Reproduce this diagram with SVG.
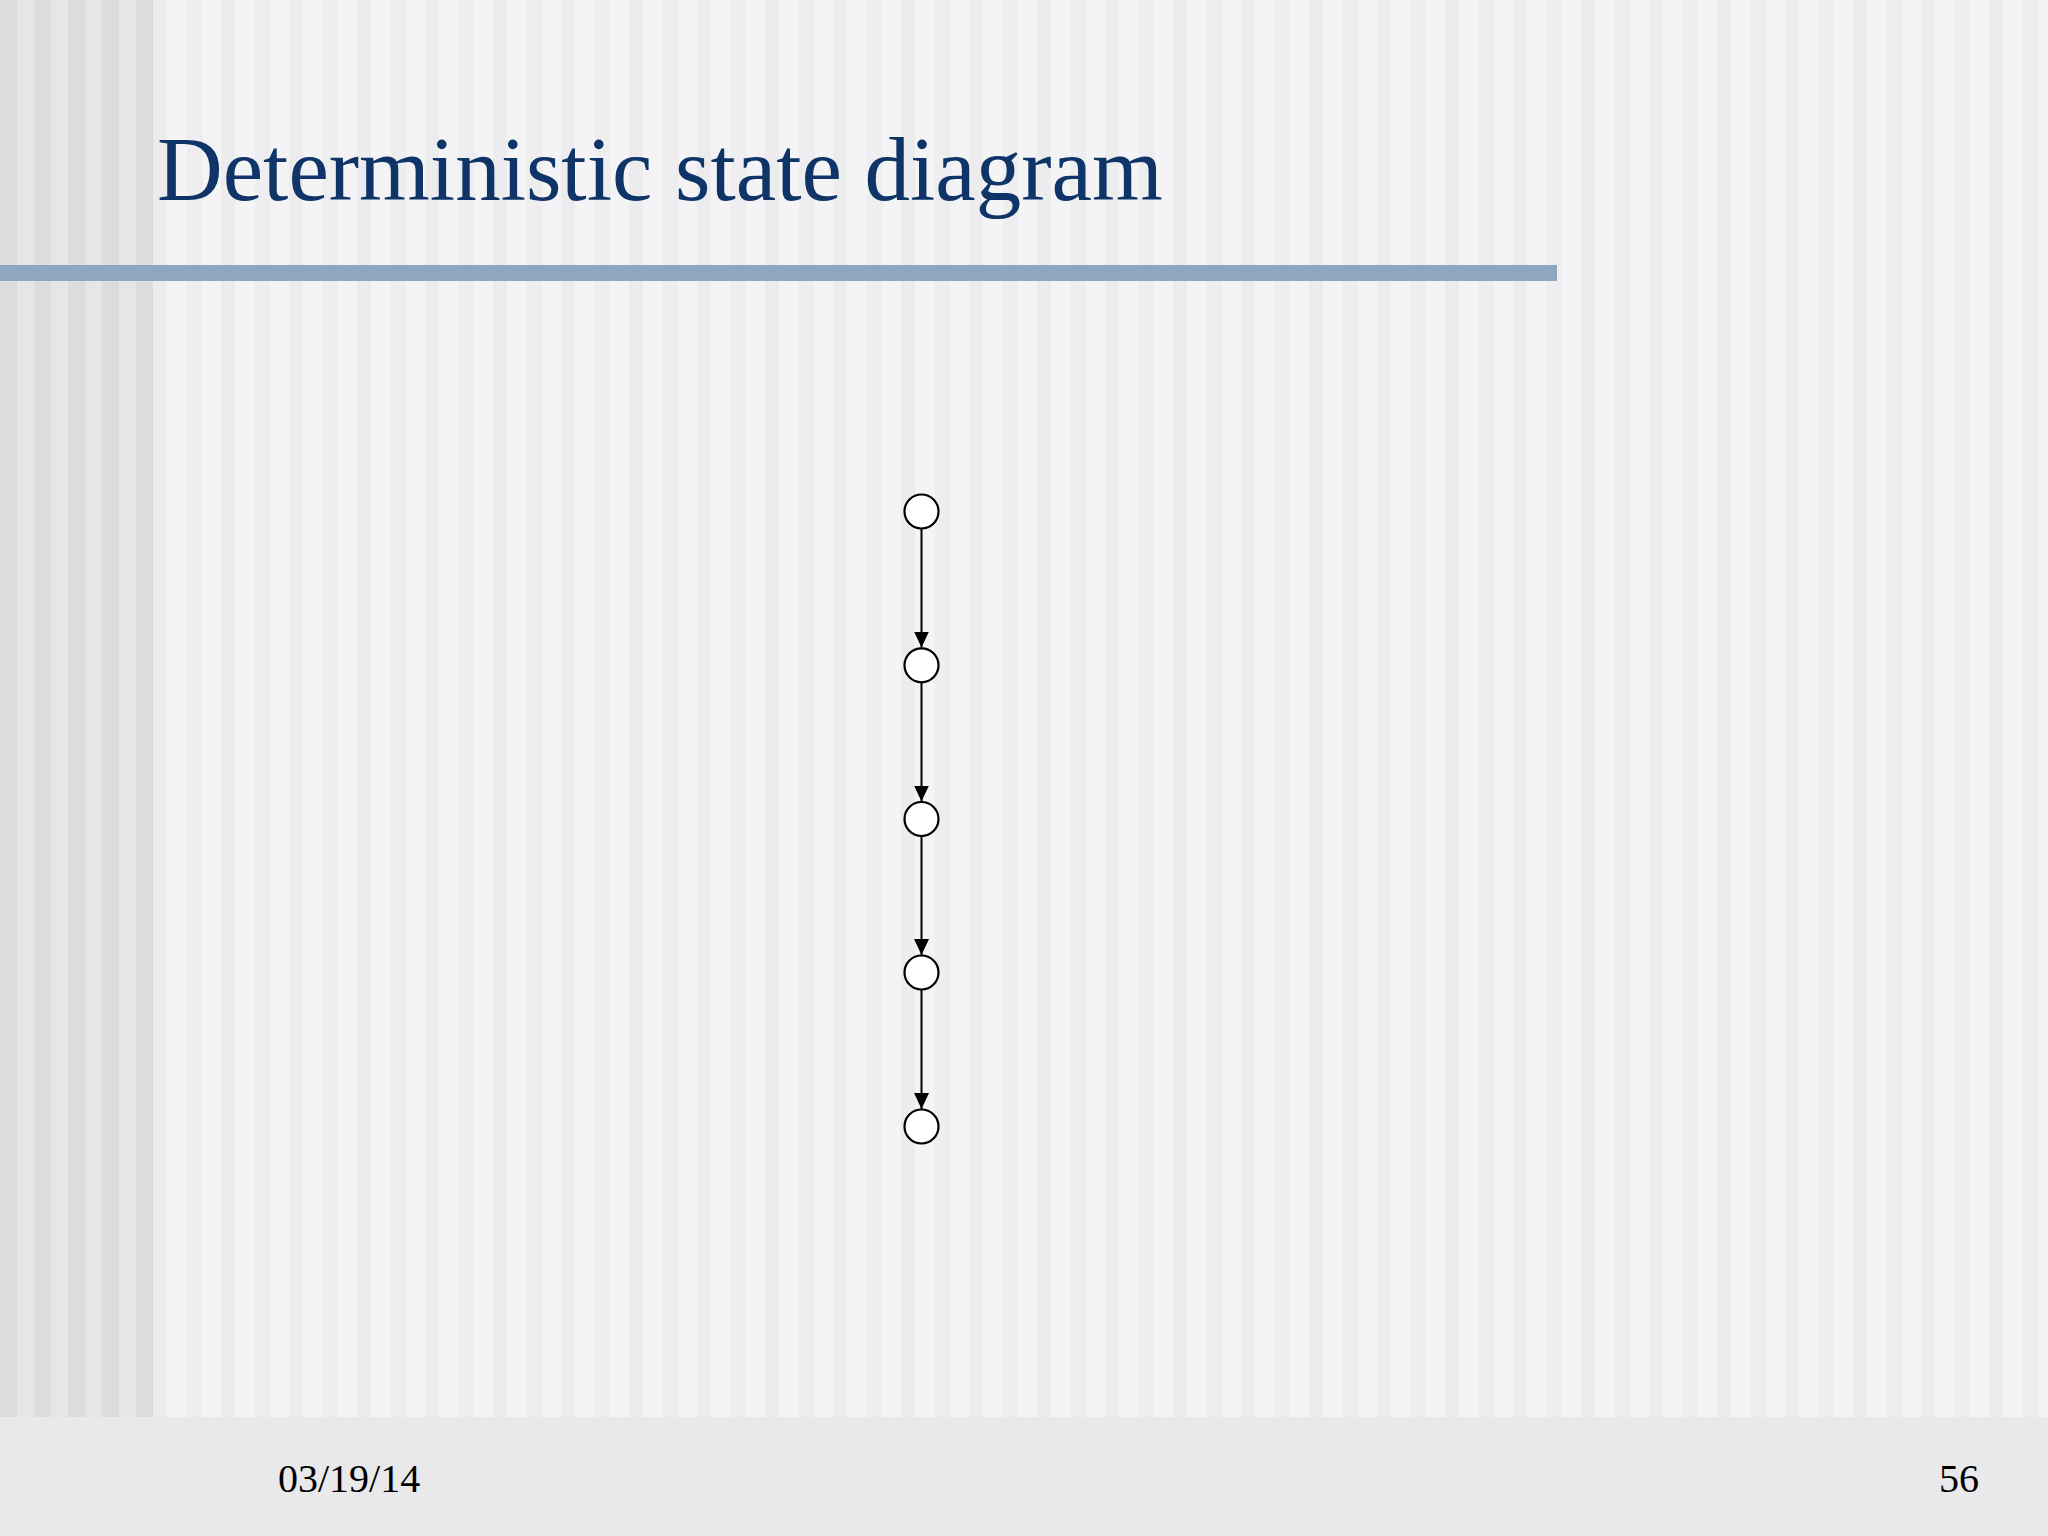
<svg xmlns="http://www.w3.org/2000/svg" width="2048" height="1536" viewBox="0 0 2048 1536">
<defs>
<pattern id="leftStripes" x="0" y="0" width="34" height="10" patternUnits="userSpaceOnUse">
<rect x="0" y="0" width="34" height="10" fill="#e6e6e8"/>
<rect x="0" y="0" width="17" height="10" fill="#dcdcdf"/>
</pattern>
<pattern id="mainStripes" x="153" y="0" width="68" height="10" patternUnits="userSpaceOnUse">
<rect x="0" y="0" width="68" height="10" fill="#f4f4f6"/>
<rect x="0" y="0" width="14" height="10" fill="#ececef"/>
<rect x="34" y="0" width="16" height="10" fill="#eeeef0"/>
</pattern>
<marker id="arrow" viewBox="0 0 16 15" refX="16" refY="7.5" markerWidth="16" markerHeight="15" markerUnits="userSpaceOnUse" orient="auto">
<path d="M0,0 L16,7.5 L0,15 Z" fill="#000"/>
</marker>
<style>
.node { fill: #ffffff; stroke: #000000; stroke-width: 2.2; }
.edge { stroke: #000000; stroke-width: 2; fill: none; marker-end: url(#arrow); }
.title { font-family: "Liberation Serif", "Times New Roman", serif; font-size: 91px; fill: #0f3468; }
.footer { font-family: "Liberation Serif", "Times New Roman", serif; font-size: 40px; fill: #000000; }
</style>
</defs>
<rect x="0" y="0" width="2048" height="1536" fill="#f3f3f5"/>
<rect x="153" y="0" width="1895" height="1417" fill="url(#mainStripes)"/>
<rect x="0" y="0" width="153" height="1417" fill="url(#leftStripes)"/>
<rect x="0" y="1417" width="2048" height="119" fill="#e9e8eb"/>
<rect x="0" y="265" width="1557" height="16" fill="#8fa6c1"/>
<text class="title" x="157" y="200">Deterministic state diagram</text>
<g id="connectors">
<line class="edge" x1="921.5" y1="529" x2="921.5" y2="647.5"/>
<line class="edge" x1="921.5" y1="683" x2="921.5" y2="801.5"/>
<line class="edge" x1="921.5" y1="836.5" x2="921.5" y2="955"/>
<line class="edge" x1="921.5" y1="990" x2="921.5" y2="1109"/>
</g>
<g id="s1"><circle class="node" cx="921.5" cy="511.5" r="17"/></g>
<g id="s2"><circle class="node" cx="921.5" cy="665.3" r="17"/></g>
<g id="s3"><circle class="node" cx="921.5" cy="819" r="17"/></g>
<g id="s4"><circle class="node" cx="921.5" cy="972.5" r="17"/></g>
<g id="s5"><circle class="node" cx="921.5" cy="1126.5" r="17"/></g>
<text class="footer" x="278" y="1492">03/19/14</text>
<text class="footer" x="1939" y="1492">56</text>
</svg>
